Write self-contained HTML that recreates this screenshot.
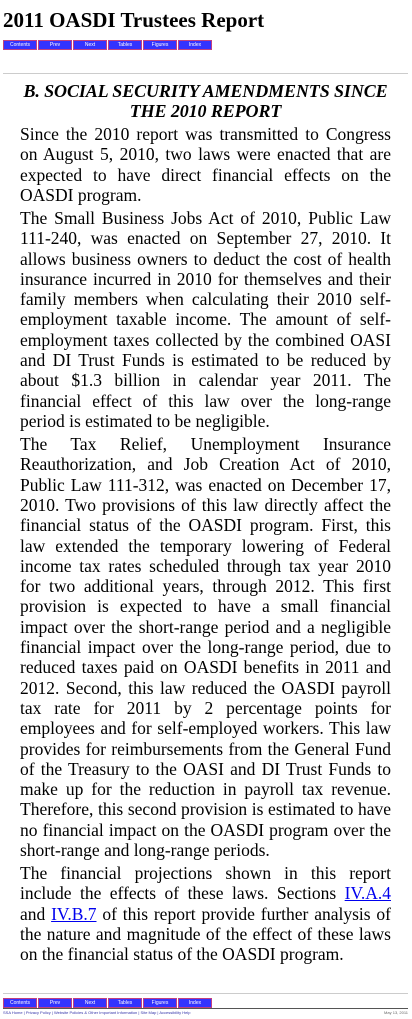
<!DOCTYPE html>
<html><head><meta charset="utf-8"><style>
body{margin:0;width:412px;height:1019px;overflow:hidden;background:#fff;font-family:"Liberation Serif",serif;color:#000;position:relative}
h1{position:absolute;left:3px;top:8px;margin:0;font-size:21px;font-weight:bold}
.nav{position:absolute;left:3px;display:flex}
.nav a{display:block;width:32px;height:8px;margin-right:1px;background:#3333ff;border:1px solid #c04080;color:#fff;font:5px "Liberation Sans",sans-serif;text-align:center;line-height:8px;text-decoration:none}
.rule{position:absolute;left:3px;width:405px;height:0;border-top:1px solid #ccc}
h2{position:absolute;left:14px;width:383px;top:81px;margin:0;text-align:center;font-size:18px;font-style:italic;font-weight:bold;line-height:20.3px;letter-spacing:-0.1px}
.txt{position:absolute;left:20px;width:371px;top:124px;font-size:17.5px;line-height:20.3px;text-align:justify}
.txt p{margin:0 0 2.8px 0}
a.l{color:#0000ee}
.foot{position:absolute;left:3px;top:1010px;font:4px "Liberation Sans",sans-serif;color:#666;width:405px}
</style></head><body>
<h1>2011 OASDI Trustees Report</h1>
<div class="nav" style="top:40px">
<a href="#">Contents</a><a href="#">Prev</a><a href="#">Next</a><a href="#">Tables</a><a href="#">Figures</a><a href="#">Index</a></div>
<div class="rule" style="top:73px"></div>
<h2>B. SOCIAL SECURITY AMENDMENTS SINCE THE 2010 REPORT</h2>
<div class="txt">
<p>Since the 2010 report was transmitted to Congress on August 5, 2010, two laws were enacted that are expected to have direct financial effects on the OASDI program.</p>
<p>The Small Business Jobs Act of 2010, Public Law 111-240, was enacted on September 27, 2010. It allows business owners to deduct the cost of health insurance incurred in 2010 for themselves and their family members when calculating their 2010 self-employment taxable income. The amount of self-employment taxes collected by the combined OASI and DI Trust Funds is estimated to be reduced by about $1.3 billion in calendar year 2011. The financial effect of this law over the long-range period is estimated to be negligible.</p>
<p>The Tax Relief, Unemployment Insurance Reauthorization, and Job Creation Act of 2010, Public Law 111-312, was enacted on December 17, 2010. Two provisions of this law directly affect the financial status of the OASDI program. First, this law extended the temporary lowering of Federal income tax rates scheduled through tax year 2010 for two additional years, through 2012. This first provision is expected to have a small financial impact over the short-range period and a negligible financial impact over the long-range period, due to reduced taxes paid on OASDI benefits in 2011 and 2012. Second, this law reduced the OASDI payroll tax rate for 2011 by 2 percentage points for employees and for self-employed workers. This law provides for reimbursements from the General Fund of the Treasury to the OASI and DI Trust Funds to make up for the reduction in payroll tax revenue. Therefore, this second provision is estimated to have no financial impact on the OASDI program over the short-range and long-range periods.</p>
<p>The financial projections shown in this report include the effects of these laws. Sections <a class="l" href="#">IV.A.4</a> and <a class="l" href="#">IV.B.7</a> of this report provide further analysis of the nature and magnitude of the effect of these laws on the financial status of the OASDI program.</p>
</div>
<div class="rule" style="top:993px"></div>
<div class="nav" style="top:998px">
<a href="#">Contents</a><a href="#">Prev</a><a href="#">Next</a><a href="#">Tables</a><a href="#">Figures</a><a href="#">Index</a></div>
<div class="rule" style="top:1008px;border-top:1px solid #555"></div>
<div class="foot"><span style="color:#3333aa">SSA Home | Privacy Policy | Website Policies &amp; Other Important Information | Site Map | Accessibility Help</span><span style="float:right">May 13, 2011</span></div>
</body></html>
